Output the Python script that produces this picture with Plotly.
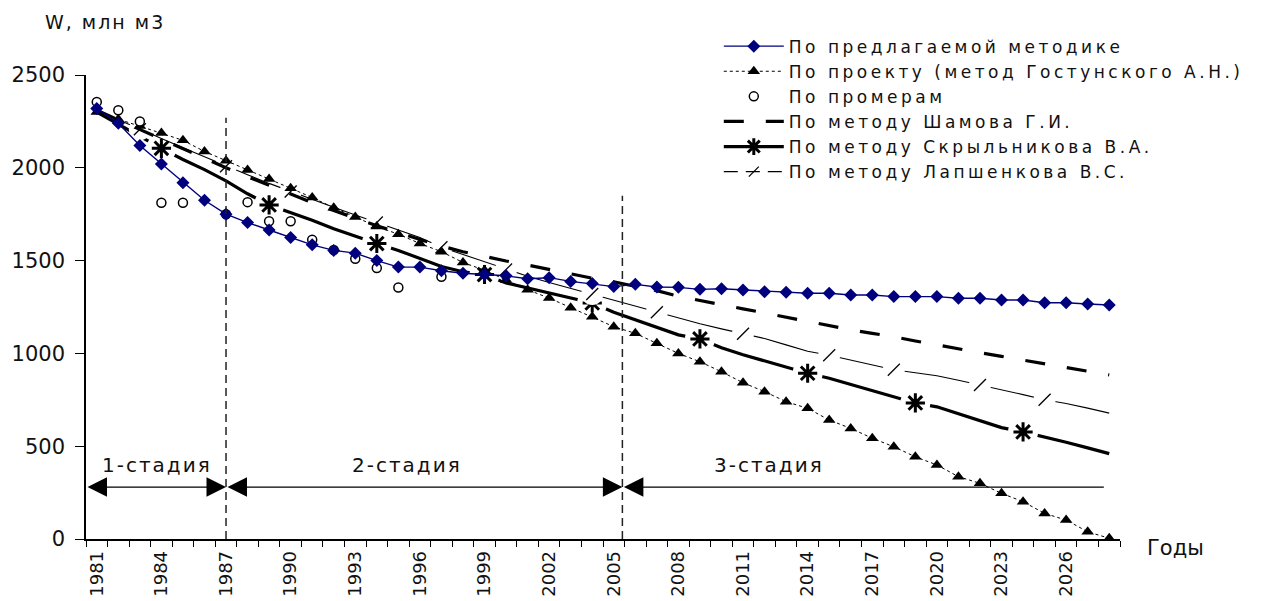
import plotly.graph_objects as go

# ---- data -----------------------------------------------------------------
years = list(range(1981, 2029))

# reservoir volume W, mln m3
proposed = [2320, 2240, 2120, 2020, 1920, 1825, 1750, 1705, 1665, 1625,
            1585, 1555, 1540, 1500, 1465, 1465, 1445, 1432, 1425, 1418,
            1402, 1408, 1388, 1376, 1360, 1372, 1358, 1356, 1345, 1348,
            1342, 1332, 1329, 1324, 1324, 1315, 1315, 1306, 1306, 1306,
            1297, 1297, 1288, 1288, 1273, 1273, 1266, 1261]

gostunsky = [2300, 2262, 2225, 2188, 2148, 2088, 2038, 1988, 1940, 1890,
             1840, 1785, 1735, 1684, 1642, 1592, 1548, 1490, 1448, 1395,
             1343, 1298, 1246, 1198, 1144, 1108, 1055, 1000, 955, 901,
             842, 794, 740, 704, 641, 596, 543, 497, 443, 399,
             336, 300, 246, 201, 138, 102, 39, 4]

survey = [2355, 2310, 2250, 1812, 1812, None, 1750, 1815, 1712, 1712,
          1612, 1557, 1510, 1460, 1355, None, 1413] + [None] * 31

shamov = [2310, 2258, 2205, 2152, 2100, 2050, 2000, 1952, 1905, 1858,
          1812, 1770, 1728, 1688, 1650, 1612, 1578, 1548, 1522, 1498,
          1476, 1452, 1428, 1405, 1385, 1362, 1338, 1308, 1284, 1262,
          1240, 1218, 1195, 1172, 1150, 1127, 1108, 1090, 1067, 1045,
          1025, 1004, 984, 964, 942, 920, 902, 884]

skrylnikov = [2300, 2235, 2170, 2105, 2045, 1990, 1930, 1860, 1800, 1760,
              1718, 1672, 1630, 1592, 1555, 1512, 1468, 1440, 1425, 1380,
              1352, 1325, 1298, 1272, 1222, 1180, 1138, 1100, 1078, 1030,
              993, 960, 928, 893, 866, 833, 800, 767, 733, 712,
              675, 636, 600, 577, 551, 521, 491, 460]

lapshenkov = [2310, 2258, 2208, 2158, 2108, 2058, 2008, 1962, 1916, 1872,
              1830, 1788, 1746, 1705, 1665, 1625, 1572, 1532, 1492, 1452,
              1416, 1382, 1350, 1320, 1290, 1256, 1222, 1190, 1160, 1132,
              1106, 1080, 1046, 1012, 990, 964, 938, 912, 896, 880,
              855, 830, 804, 778, 750, 730, 705, 678]

star_years = [1984, 1989, 1994, 1999, 2004, 2009, 2014, 2019, 2024]
slash_years = [1983, 1987, 1990, 1994, 1997, 2000, 2004, 2007, 2011,
               2015, 2018, 2022, 2025]

label_years = list(range(1981, 2027, 3))
y_ticks = [0, 500, 1000, 1500, 2000, 2500]

names = ["По предлагаемой методике",
         "По проекту (метод Гостунского А.Н.)",
         "По промерам",
         "По методу Шамова Г.И.",
         "По методу Скрыльникова В.А.",
         "По методу Лапшенкова В.С."]

stage_names = ["1-стадия", "2-стадия", "3-стадия"]
stage_bounds = [(1980.5, 1987.0), (1987.0, 2005.4), (2005.4, 2027.75)]
stage_label_x = [1983.8, 1995.4, 2012.2]
stage_level = 280
stage_label_level = 400
divider_years = [1987.0, 2005.4]
divider_tops = [2270, 1850]

# ---- figure ---------------------------------------------------------------
FONT = "DejaVu Sans"
BLACK = "black"
NAVY = "#00007f"
TEXT = "#111"


def spaced(s, px):
    return f'<span style="letter-spacing:{px}px">{s}</span>'


fig = go.Figure()


def pick(series, subset):
    return [series[years.index(y)] for y in subset]


# Skrylnikov: thick line broken around star markers
fig.add_trace(go.Scatter(x=years, y=skrylnikov, mode="lines", showlegend=False,
                         line=dict(color=BLACK, width=3.2), hoverinfo="skip"))
fig.add_trace(go.Scatter(x=star_years, y=pick(skrylnikov, star_years), mode="markers",
                         showlegend=False, hoverinfo="skip",
                         marker=dict(symbol="circle", size=30, color="white")))
fig.add_trace(go.Scatter(x=star_years, y=pick(skrylnikov, star_years), mode="markers",
                         showlegend=False,
                         marker=dict(symbol="asterisk-open", size=16, color=BLACK,
                                     line=dict(color=BLACK, width=3))))

# Lapshenkov: thin line with slash marks
fig.add_trace(go.Scatter(x=years, y=lapshenkov, mode="lines", showlegend=False,
                         line=dict(color=BLACK, width=1.1), hoverinfo="skip"))
fig.add_trace(go.Scatter(x=slash_years, y=pick(lapshenkov, slash_years), mode="markers",
                         showlegend=False, hoverinfo="skip",
                         marker=dict(symbol="circle", size=22, color="white")))
fig.add_trace(go.Scatter(x=slash_years, y=pick(lapshenkov, slash_years), mode="markers",
                         showlegend=False,
                         marker=dict(symbol="line-ne-open", size=12, color=BLACK,
                                     line=dict(color=BLACK, width=1.3))))

LS = 3.5  # legend letter spacing

# Shamov: thick long dashes
fig.add_trace(go.Scatter(x=years, y=shamov, mode="lines", name=spaced(names[3], LS),
                         legendrank=4,
                         line=dict(color=BLACK, width=3.2, dash="20px,22px")))

# Gostunsky (project): triangles on a fine dashed line
fig.add_trace(go.Scatter(x=years, y=gostunsky, mode="lines+markers",
                         name=spaced(names[1], LS), legendrank=2,
                         line=dict(color=BLACK, width=1, dash="3px,3px"),
                         marker=dict(symbol="triangle-up", size=11, color=BLACK)))

# survey measurements: hollow circles
fig.add_trace(go.Scatter(x=years, y=survey, mode="markers", name=spaced(names[2], LS),
                         legendrank=3,
                         marker=dict(symbol="circle", size=9, color="white",
                                     line=dict(color=BLACK, width=1.5))))

# proposed method: navy diamonds
fig.add_trace(go.Scatter(x=years, y=proposed, mode="lines+markers",
                         name=spaced(names[0], LS), legendrank=1,
                         line=dict(color=NAVY, width=1.4),
                         marker=dict(symbol="diamond", size=10, color=NAVY)))

# legend-only entries for the composite styles
fig.add_trace(go.Scatter(x=[None], y=[None], mode="lines+markers",
                         name=spaced(names[4], LS), legendrank=5, hoverinfo="skip",
                         line=dict(color=BLACK, width=3.2),
                         marker=dict(symbol="asterisk-open", size=14, color=BLACK,
                                     line=dict(color=BLACK, width=3))))
fig.add_trace(go.Scatter(x=[None], y=[None], mode="lines+markers",
                         name=spaced(names[5], LS), legendrank=6, hoverinfo="skip",
                         line=dict(color=BLACK, width=1.1, dash="14px,8px"),
                         marker=dict(symbol="line-ne-open", size=10, color=BLACK,
                                     line=dict(color=BLACK, width=1.3))))

# stage dividers
for xd, top in zip(divider_years, divider_tops):
    fig.add_shape(type="line", xref="x", yref="y", x0=xd, x1=xd, y0=0, y1=top,
                  line=dict(color="#222", width=1.5, dash="8px,5px"))

# stage arrows and labels
sides = ["end+start", "end+start", "start"]
for (x0, x1), side in zip(stage_bounds, sides):
    fig.add_annotation(x=x1, y=stage_level, ax=x0, ay=stage_level,
                       xref="x", yref="y", axref="x", ayref="y",
                       text="", showarrow=True, arrowside=side,
                       arrowhead=2, startarrowhead=2,
                       arrowsize=3, startarrowsize=3, arrowwidth=1.3,
                       arrowcolor=BLACK, standoff=0, startstandoff=0)
for name, xl in zip(stage_names, stage_label_x):
    fig.add_annotation(x=xl, y=stage_label_level, xref="x", yref="y",
                       text=spaced(name, 2), showarrow=False,
                       font=dict(family=FONT, size=20, color=TEXT))

# axis captions
fig.add_annotation(x=-0.042, y=1.114, xref="paper", yref="paper",
                   xanchor="left", yanchor="middle",
                   text=spaced("W, млн м3", 2), showarrow=False,
                   font=dict(family=FONT, size=19, color=TEXT))
fig.add_annotation(x=1.024, y=-0.019, xref="paper", yref="paper",
                   xanchor="left", yanchor="middle",
                   text="Годы", showarrow=False,
                   font=dict(family=FONT, size=21, color=TEXT))

fig.update_layout(
    width=1270, height=601,
    margin=dict(l=86, r=150, t=75, b=62, autoexpand=False),
    paper_bgcolor="white", plot_bgcolor="white",
    font=dict(family=FONT, size=20, color=TEXT),
    legend=dict(x=0.612, y=1.10, xanchor="left", yanchor="top",
                bgcolor="rgba(0,0,0,0)", font=dict(family=FONT, size=17, color=TEXT),
                itemwidth=60, tracegroupgap=0),
    xaxis=dict(range=[1980.5, 2028.5], tickmode="array", tickvals=label_years,
               ticktext=[str(y) for y in label_years], tickangle=-90,
               ticks="outside", ticklen=0, tickfont=dict(size=18),
               ticklabelstandoff=3, automargin=False,
               showline=True, linecolor=BLACK, linewidth=1.5,
               showgrid=False, zeroline=False,
               minor=dict(tickmode="array",
                          tickvals=[1980.5 + i for i in range(49)],
                          ticks="outside", ticklen=6, tickwidth=1.3,
                          tickcolor=BLACK, showgrid=False)),
    yaxis=dict(range=[0, 2500], tickmode="array", tickvals=y_ticks,
               ticks="outside", ticklen=9, tickwidth=1.3, tickcolor=BLACK,
               tickfont=dict(size=21), ticklabelstandoff=6, automargin=False,
               showline=True, linecolor=BLACK, linewidth=1.5,
               showgrid=False, zeroline=False),
)

fig.write_html("out.html")
